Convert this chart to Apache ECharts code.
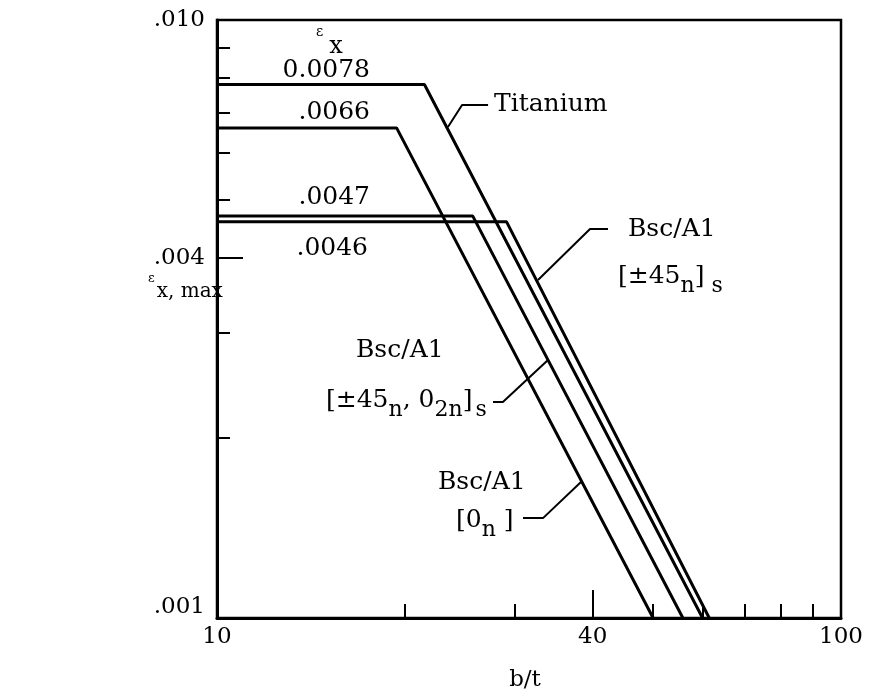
<!DOCTYPE html>
<html>
<head>
<meta charset="utf-8">
<script src="https://cdn.jsdelivr.net/npm/echarts@6/dist/echarts.min.js"></script>
<style>
  html, body { margin: 0; padding: 0; background: #fff; }
  #chart { width: 869px; height: 694px; }
</style>
</head>
<body>
<div id="chart"></div>
<script>
// Maximum buckling strain against width-to-thickness ratio b/t (log-log)
const titaniumX = [10, 21.5, 60];
const titaniumY = [0.0078, 0.0078, 0.001];
const zeroPlyX = [10, 19.4, 50];
const zeroPlyY = [0.0066, 0.0066, 0.001];
const mixedPlyX = [10, 25.7, 55.8];
const mixedPlyY = [0.0047, 0.0047, 0.001];
const anglePlyX = [10, 29.1, 61.5];
const anglePlyY = [0.0046, 0.0046, 0.001];

// Tick values
const xMinorTicks = [20, 30, 50, 60, 70, 80, 90];
const xMajorTicks = [40];
const xTickLabels = [10, 40, 100];
const yMinorTicks = [0.002, 0.003, 0.005, 0.006, 0.007, 0.008, 0.009];
const yMajorTicks = [0.004];
const yTickLabels = [0.001, 0.004, 0.01];

// Leader lines from the curve labels to their curves, in data units
const leaderTitanium = [[23.45, 0.006624], [24.70, 0.007211], [27.19, 0.007211]];
const leaderAngle = [[32.69, 0.003675], [39.61, 0.004472], [42.33, 0.004472]];
const leaderMixed = [[33.92, 0.002700], [28.72, 0.002297], [27.69, 0.002297]];
const leaderZero = [[38.31, 0.001688], [33.30, 0.001469], [30.93, 0.001469]];

const FONT = 'DejaVu Serif';
const zip = (xs, ys) => xs.map((x, i) => [x, ys[i]]);

function curve(name, xs, ys) {
  return {
    name, type: 'line', data: zip(xs, ys), showSymbol: false, silent: true,
    lineStyle: { color: '#000', width: 3 }, z: 3
  };
}
function leader(data) {
  return {
    type: 'line', data, showSymbol: false, silent: true,
    lineStyle: { color: '#000', width: 2 }, z: 3
  };
}

// Subscript token: smaller glyphs pushed down by top padding
const sub = { fontFamily: FONT, fontSize: 22, padding: [20, 0, 0, 0] };
const subGap = { fontFamily: FONT, fontSize: 22, padding: [20, 0, 0, 3] };
const txt = (text, x, y, align, rich, size) => ({
  type: 'text', x, y, silent: true, z: 10,
  style: {
    text, fill: '#000', align: align || 'left', verticalAlign: 'middle',
    fontFamily: FONT, fontSize: size || 25, rich: rich || {}
  }
});

const chart = echarts.init(document.getElementById('chart'), null, { renderer: 'canvas' });

const tickLabelStyle = { color: '#000', fontFamily: FONT, fontSize: 23 };

chart.setOption({
  animation: false,
  backgroundColor: '#fff',
  grid: {
    left: 217, right: 28, top: 20, bottom: 76,
    show: true, borderColor: '#000', borderWidth: 2.5, backgroundColor: 'transparent'
  },
  xAxis: [
    {
      type: 'log', logBase: 10, min: 10, max: 100, position: 'bottom',
      axisLine: { show: true, lineStyle: { color: '#000', width: 3 } },
      axisTick: { show: true, inside: true, length: 14, customValues: xMinorTicks,
        lineStyle: { color: '#000', width: 2 } },
      axisLabel: { show: false },
      splitLine: { show: false }, minorTick: { show: false }
    },
    {
      type: 'log', logBase: 10, min: 10, max: 100, position: 'bottom', gridIndex: 0,
      axisLine: { show: false },
      axisTick: { show: true, inside: true, length: 28, customValues: xMajorTicks,
        lineStyle: { color: '#000', width: 2 } },
      axisLabel: Object.assign({ show: true, margin: 8, customValues: xTickLabels,
        formatter: v => String(Math.round(v)) }, tickLabelStyle),
      splitLine: { show: false }
    }
  ],
  yAxis: [
    {
      type: 'log', logBase: 10, min: 0.001, max: 0.01, position: 'left',
      axisLine: { show: true, lineStyle: { color: '#000', width: 3 } },
      axisTick: { show: true, inside: true, length: 13, customValues: yMinorTicks,
        lineStyle: { color: '#000', width: 2 } },
      axisLabel: { show: false },
      splitLine: { show: false }
    },
    {
      type: 'log', logBase: 10, min: 0.001, max: 0.01, position: 'left', gridIndex: 0,
      axisLine: { show: false },
      axisTick: { show: true, inside: true, length: 26, customValues: yMajorTicks,
        lineStyle: { color: '#000', width: 2 } },
      axisLabel: Object.assign({
        show: true, margin: 12, customValues: yTickLabels,
        formatter: v => {
          const s = v.toFixed(3).replace(/^0/, '');
          return v < 0.0015 ? '{lo|' + s + '}' : s;
        },
        rich: { lo: { fontFamily: FONT, fontSize: 23, color: '#000', padding: [0, 0, 22, 0] } }
      }, tickLabelStyle),
      splitLine: { show: false }
    }
  ],
  series: [
    curve('Titanium', titaniumX, titaniumY),
    curve('Bsc/A1 [0n]', zeroPlyX, zeroPlyY),
    curve('Bsc/A1 [±45n, 02n]s', mixedPlyX, mixedPlyY),
    curve('Bsc/A1 [±45n]s', anglePlyX, anglePlyY),
    leader(leaderTitanium),
    leader(leaderAngle),
    leader(leaderMixed),
    leader(leaderZero)
  ],
  graphic: [
    // Column header for the plateau strains
    txt('{e|ε}{x|x}', 316, 47, 'left', {
      e: { fontFamily: FONT, fontSize: 14, padding: [0, 0, 30, 0] },
      x: { fontFamily: FONT, fontSize: 24, padding: [0, 0, 0, 6] }
    }),
    txt('0.0078', 370, 70, 'right'),
    txt('.0066', 370, 112, 'right'),
    txt('.0047', 370, 197, 'right'),
    txt('.0046', 368, 248, 'right'),

    txt('Titanium', 494, 104),

    txt('Bsc/A1', 628, 229),
    txt('[±45{s|n}]{s| s}', 618, 276, 'left', { s: sub }),

    txt('Bsc/A1', 356, 350),
    txt('[±45{s|n}, 0{s|2n}]{g|s}', 326, 400, 'left', { s: sub, g: subGap }),

    txt('Bsc/A1', 438, 482),
    txt('[0{s|n} ]', 456, 520, 'left', { s: sub }),

    // Axis titles
    txt('{e|ε}{x|x, max}', 148, 292, 'left', {
      e: { fontFamily: FONT, fontSize: 13, padding: [0, 0, 26, 0] },
      x: { fontFamily: FONT, fontSize: 20, padding: [0, 0, 0, 2] }
    }),
    txt('b/t', 525, 680, 'center', null, 23)
  ]
});
</script>
</body>
</html>
